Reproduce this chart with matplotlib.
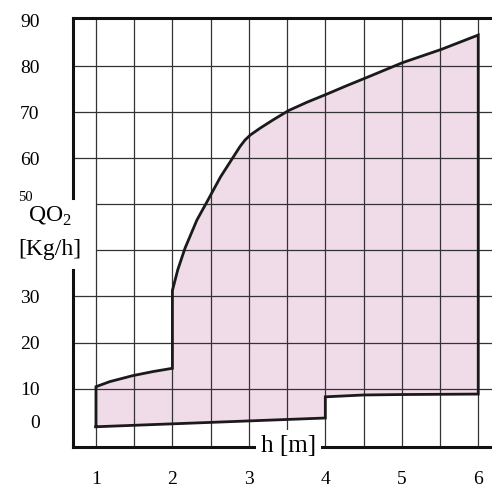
import matplotlib.pyplot as plt

plt.rcParams['font.family'] = ['Liberation Serif', 'DejaVu Serif']
plt.rcParams['mathtext.fontset'] = 'custom'
plt.rcParams['mathtext.rm'] = 'Liberation Serif'

# outline of the working area (h [m] vs QO2 [Kg/h]), traced clockwise
h_vals = [1, 4, 4, 4.5, 5, 6,
          6, 5.52, 5.01, 4.56, 4.28, 4.01, 3.76, 3.52, 3.32, 3.15, 3.02,
          2.95, 2.885, 2.8, 2.63, 2.45, 2.32, 2.165, 2.07, 2,
          2, 1.75, 1.48, 1.18, 1]
q_vals = [1.7, 3.6, 8.2, 8.6, 8.7, 8.8,
          86.8, 83.7, 80.8, 77.7, 75.8, 73.9, 72.2, 70.4, 68.4, 66.6, 65.1,
          64.0, 62.6, 60.4, 56.0, 50.5, 46.6, 40.5, 35.8, 31.3,
          14.4, 13.7, 12.8, 11.5, 10.4]

x_ticks = [1, 2, 3, 4, 5, 6]
y_ticks = [10, 20, 30, 60, 70, 80, 90]
grid_x = [1, 1.5, 2, 2.5, 3, 3.5, 4, 4.5, 5, 5.5, 6]
grid_y = [10, 20, 30, 40, 50, 60, 70, 80]

xmin, xmax = 0.70, 6.18
ymin, ymax = -2.7, 90.5

fig = plt.figure(figsize=(4.92, 4.88), dpi=100)
ax = fig.add_axes([0.1484, 0.084, 0.8516, 0.8791])
ax.set_xlim(xmin, xmax)
ax.set_ylim(ymin, ymax)

# pink area + outline
ax.fill(h_vals, q_vals, color='#f0dbe8', zorder=1, lw=0)
ax.plot(h_vals + h_vals[:1], q_vals + q_vals[:1], color='#1a1a1a', lw=2,
        zorder=3, solid_joinstyle='miter')

# grid (lines at 40 and 50 start at h=1, the label sits there)
ax.vlines(grid_x, ymin, ymax, color='#333333', lw=0.9, zorder=2)
for y in grid_y:
    x0 = 1 if y in (40, 50) else xmin
    ax.hlines(y, x0, xmax, color='#333333', lw=0.9, zorder=2)

# spines: left one broken around the axis label
for s in ['left', 'right', 'bottom']:
    ax.spines[s].set_visible(False)
ax.spines['top'].set_linewidth(2.2)
ax.spines['top'].set_color('#111111')
ax.plot([xmin, xmin], [51.3, ymax], color='#111111', lw=2.2, clip_on=False, zorder=4)
ax.plot([xmin, xmin], [ymin, 35.7], color='#111111', lw=2.2, clip_on=False, zorder=4)
ax.plot([xmin, xmax], [ymin, ymin], color='#111111', lw=2.2, clip_on=False, zorder=4)

ax.set_xticks(x_ticks)
ax.set_xticklabels([str(v) for v in x_ticks], fontsize=14)
ax.set_yticks(y_ticks)
ax.set_yticklabels([str(v) for v in y_ticks], fontsize=14)
ax.tick_params(axis='x', length=0, pad=17)
ax.tick_params(axis='y', length=0, pad=24)

ax.annotate('0', xy=(0, 2.4), xycoords=('axes fraction', 'data'),
            xytext=(-24, 0), textcoords='offset points',
            ha='right', va='center', fontsize=14)
ax.annotate('50', xy=(0, 51.6), xycoords=('axes fraction', 'data'),
            xytext=(-29, 0), textcoords='offset points',
            ha='right', va='center', fontsize=10.5)

# axis titles
ax.annotate(r'QO$_2$', xy=(0, 47.3), xycoords=('axes fraction', 'data'),
            xytext=(-17, 0), textcoords='offset points',
            ha='center', va='center', fontsize=17)
ax.annotate('[Kg/h]', xy=(0, 40.3), xycoords=('axes fraction', 'data'),
            xytext=(-17, 0), textcoords='offset points',
            ha='center', va='center', fontsize=17)
ax.text(3.52, -2.4, 'h [m]', ha='center', va='center', fontsize=18, zorder=6,
        clip_on=False,
        bbox=dict(boxstyle='square,pad=0.2', facecolor='white', edgecolor='none'))

plt.savefig('out.png', dpi=100)
